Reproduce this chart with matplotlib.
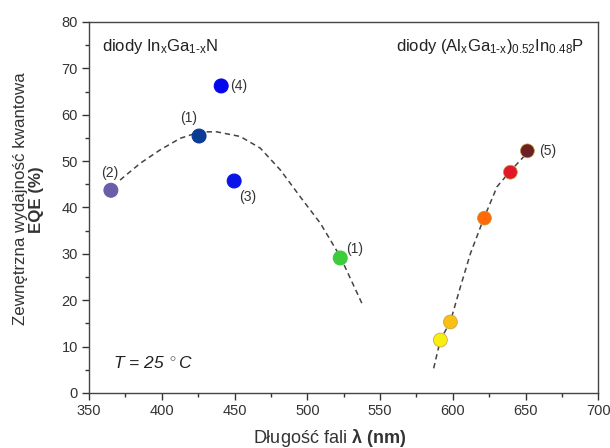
import matplotlib
matplotlib.use("Agg")
import matplotlib.pyplot as plt
from matplotlib.ticker import MultipleLocator

plt.rcParams['font.family'] = ['Liberation Sans', 'DejaVu Sans']
plt.rcParams['mathtext.fontset'] = 'custom'
plt.rcParams['mathtext.rm'] = 'Liberation Sans'
plt.rcParams['mathtext.it'] = 'Liberation Sans:italic'
plt.rcParams['mathtext.bf'] = 'Liberation Sans:bold'

# InGaN diodes
ingan_wl = [365, 425.6, 440.8, 449.7, 522.6]
ingan_eqe = [43.7, 55.4, 66.2, 45.7, 29.1]
ingan_colors = ['#6a5ea8', '#0b3c94', '#0505ee', '#0a14e6', '#3ccc3c']
ingan_labels = ['(2)', '(1)', '(4)', '(3)', '(1)']

# AlGaInP diodes
algainp_wl = [591.4, 598.3, 621.7, 639.5, 651.2]
algainp_eqe = [11.4, 15.3, 37.7, 47.6, 52.2]
algainp_colors = ['#f8ef12', '#f8c012', '#ff6a08', '#e01828', '#6a2024']
algainp_label = '(5)'

# dashed guide curves
curve1_wl = [371.3, 385.1, 398.8, 412.6, 426.3, 437.8, 453.9, 467.6, 481.4, 495.1, 508.9, 522.6, 537.5]
curve1_eqe = [45.9, 49.5, 52.4, 54.9, 56.3, 56.3, 55.3, 52.8, 48.1, 42.3, 36.6, 29.4, 19.3]
curve2_wl = [586.8, 591.4, 598.3, 605.2, 612.1, 621.2, 630.4, 639.1, 651.5]
curve2_eqe = [5.3, 11.4, 15.4, 22.9, 30.1, 37.6, 44.5, 47.7, 51.9]

fig = plt.figure(figsize=(6.1, 4.48), dpi=100)
ax = fig.add_axes([0.146, 0.123, 0.835, 0.828])

ax.plot(curve1_wl, curve1_eqe, ls=(0, (3.5, 2.5)), color='#444444', lw=1.1, zorder=1)
ax.plot(curve2_wl, curve2_eqe, ls=(0, (3.5, 2.5)), color='#444444', lw=1.1, zorder=1)

ax.scatter(ingan_wl, ingan_eqe, s=100, c=ingan_colors, edgecolors=ingan_colors, linewidths=0.8, zorder=3)
ax.scatter(algainp_wl, algainp_eqe, s=100, c=algainp_colors, edgecolors='#c89a40', linewidths=0.5, zorder=3)

lab_fs = 10
lab_c = '#333333'
ax.text(ingan_wl[0] - 0.5, ingan_eqe[0] + 2.3, ingan_labels[0], fontsize=lab_fs, color=lab_c, ha='center', va='bottom')
ax.text(ingan_wl[1] - 7.5, ingan_eqe[1] + 2.3, ingan_labels[1], fontsize=lab_fs, color=lab_c, ha='center', va='bottom')
ax.text(ingan_wl[2] + 6, ingan_eqe[2], ingan_labels[2], fontsize=lab_fs, color=lab_c, ha='left', va='center')
ax.text(ingan_wl[3] + 3.5, ingan_eqe[3] - 3.5, ingan_labels[3], fontsize=lab_fs, color=lab_c, ha='left', va='center')
ax.text(ingan_wl[4] + 4, ingan_eqe[4] + 2, ingan_labels[4], fontsize=lab_fs, color=lab_c, ha='left', va='center')
ax.text(algainp_wl[4] + 8, algainp_eqe[4], algainp_label, fontsize=lab_fs, color=lab_c, ha='left', va='center')

ax.text(0.026, 0.935, r'diody In$_\mathregular{x}$Ga$_\mathregular{1\text{-}x}$N', transform=ax.transAxes,
        fontsize=12, color='#222222', ha='left', va='center')
ax.text(0.972, 0.935, r'diody (Al$_\mathregular{x}$Ga$_\mathregular{1\text{-}x}$)$_\mathregular{0.52}$In$_\mathregular{0.48}$P',
        transform=ax.transAxes, fontsize=12, color='#222222', ha='right', va='center')
ax.text(0.047, 0.081, r'$T$ = 25 $^\circ$C', transform=ax.transAxes, fontsize=12.5, style='italic',
        color='#222222', ha='left', va='center')

ax.set_xlim(350, 700)
ax.set_ylim(0, 80)
ax.xaxis.set_major_locator(MultipleLocator(50))
ax.xaxis.set_minor_locator(MultipleLocator(25))
ax.yaxis.set_major_locator(MultipleLocator(10))
ax.yaxis.set_minor_locator(MultipleLocator(5))
ax.tick_params(which='major', direction='out', length=5, width=1, color='#333333', labelsize=10.5,
               labelcolor='#333333', top=False, right=False, pad=3)
ax.tick_params(which='minor', direction='out', length=3, width=1, color='#333333', top=False, right=False)
for s in ax.spines.values():
    s.set_color('#444444')
    s.set_linewidth(1.0)

fig.text(0.541, 0.022, r'Długość fali $\mathbf{\lambda}$ $\mathbf{(nm)}$', fontsize=13, color='#333333',
         ha='center', va='center')
ax.text(-0.134, 0.525, 'Zewnętrzna wydajność kwantowa', transform=ax.transAxes, rotation=90,
        fontsize=12.2, color='#333333', ha='center', va='center')
ax.text(-0.104, 0.52, 'EQE (%)', transform=ax.transAxes, rotation=90, fontweight='bold',
        fontsize=12.2, color='#333333', ha='center', va='center')

fig.savefig('out.png', dpi=100)
